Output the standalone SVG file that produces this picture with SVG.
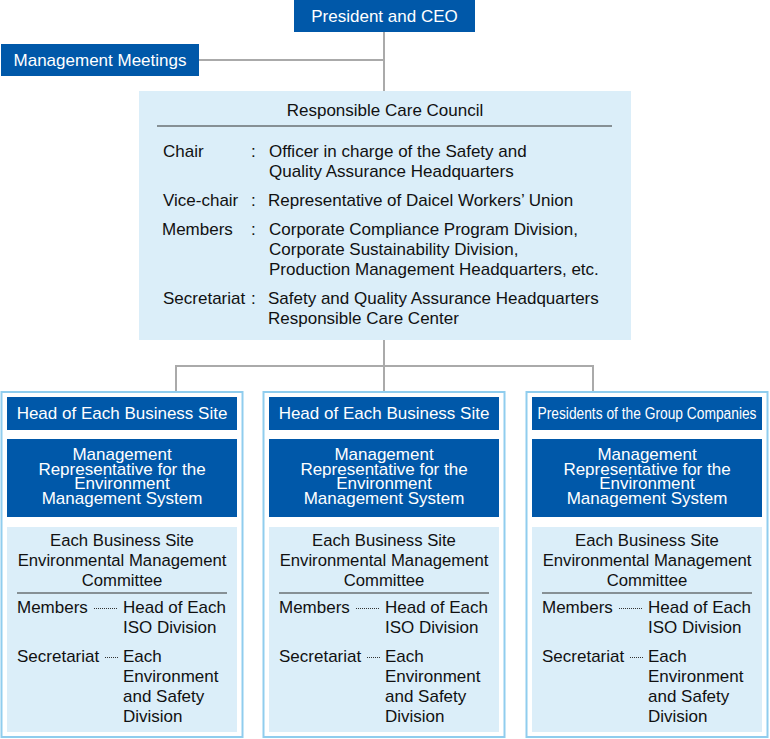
<svg xmlns="http://www.w3.org/2000/svg" width="770" height="739" viewBox="0 0 770 739">
<style>
text{font-family:"Liberation Sans",Arial,sans-serif;font-size:17px;fill:#111}
.w{fill:#fff}
.c{text-anchor:middle}
.dk{fill:#0058a9}
.lt{fill:#dbeef9}
.con{stroke:#aaaaaa;stroke-width:2;fill:none}
.outer{fill:#fff;stroke:#90cdee;stroke-width:2}
.rule{stroke:#333;stroke-width:1.2}
.dots{stroke:#333;stroke-width:1;stroke-dasharray:1 1}
.cm{font-size:16.7px}
</style>
<g id="connectors">
<line class="con" x1="384" y1="32" x2="384" y2="91"/>
<line class="con" x1="199" y1="60" x2="384" y2="60"/>
<line class="con" x1="384" y1="340" x2="384" y2="366"/>
<line class="con" x1="176" y1="366" x2="593" y2="366"/>
<line class="con" x1="176" y1="365" x2="176" y2="392"/>
<line class="con" x1="384" y1="365" x2="384" y2="392"/>
<line class="con" x1="593" y1="365" x2="593" y2="392"/>
</g>
<g id="president">
<rect class="dk" x="294" y="0" width="181" height="32"/>
<text class="w c" x="384.5" y="22">President and CEO</text>
</g>
<g id="management-meetings">
<rect class="dk" x="1" y="44" width="198" height="32"/>
<text class="w c" x="100" y="66">Management Meetings</text>
</g>
<g id="council">
<rect class="lt" x="139" y="91" width="492" height="249"/>
<text class="c" x="385" y="116">Responsible Care Council</text>
<line class="rule" x1="157" y1="126" x2="612" y2="126"/>
<text x="163" y="157">Chair</text>
<text x="251" y="157">:</text>
<text x="269" y="157">Officer in charge of the Safety and</text>
<text x="269" y="177">Quality Assurance Headquarters</text>
<text x="163" y="206">Vice-chair</text>
<text x="251" y="206">:</text>
<text x="268" y="206">Representative of Daicel Workers’ Union</text>
<text x="162" y="235">Members</text>
<text x="251" y="235">:</text>
<text x="269" y="235">Corporate Compliance Program Division,</text>
<text x="269" y="255">Corporate Sustainability Division,</text>
<text x="269" y="275">Production Management Headquarters, etc.</text>
<text x="163" y="304">Secretariat</text>
<text x="251" y="304">:</text>
<text x="268" y="304">Safety and Quality Assurance Headquarters</text>
<text x="268" y="324">Responsible Care Center</text>
</g>
<g id="site1" transform="translate(122,0)">
<rect class="outer" x="-120.5" y="392" width="241" height="345"/>
<rect class="dk" x="-115" y="397" width="230" height="33"/>
<text class="w c" x="0" y="419">Head of Each Business Site</text>
<rect class="dk" x="-115" y="439" width="230" height="78"/>
<text class="w c" x="0" y="460">Management</text>
<text class="w c" x="0" y="474.5">Representative for the</text>
<text class="w c" x="0" y="489">Environment</text>
<text class="w c" x="0" y="503.5">Management System</text>
<rect class="lt" x="-115" y="527" width="230" height="205"/>
<text class="c cm" x="0" y="546">Each Business Site</text>
<text class="c cm" x="0" y="566">Environmental Management</text>
<text class="c cm" x="0" y="586">Committee</text>
<line class="rule" x1="-105" y1="593" x2="105" y2="593"/>
<text x="-105" y="613">Members</text>
<line class="dots" x1="-28" y1="608.5" x2="-4" y2="608.5"/>
<text x="1" y="613">Head of Each</text>
<text x="1" y="633">ISO Division</text>
<text x="-105" y="662">Secretariat</text>
<line class="dots" x1="-17" y1="657.5" x2="-4" y2="657.5"/>
<text x="1" y="662">Each</text>
<text x="1" y="682">Environment</text>
<text x="1" y="702">and Safety</text>
<text x="1" y="722">Division</text>
</g>
<g id="site2" transform="translate(384,0)">
<rect class="outer" x="-120.5" y="392" width="241" height="345"/>
<rect class="dk" x="-115" y="397" width="230" height="33"/>
<text class="w c" x="0" y="419">Head of Each Business Site</text>
<rect class="dk" x="-115" y="439" width="230" height="78"/>
<text class="w c" x="0" y="460">Management</text>
<text class="w c" x="0" y="474.5">Representative for the</text>
<text class="w c" x="0" y="489">Environment</text>
<text class="w c" x="0" y="503.5">Management System</text>
<rect class="lt" x="-115" y="527" width="230" height="205"/>
<text class="c cm" x="0" y="546">Each Business Site</text>
<text class="c cm" x="0" y="566">Environmental Management</text>
<text class="c cm" x="0" y="586">Committee</text>
<line class="rule" x1="-105" y1="593" x2="105" y2="593"/>
<text x="-105" y="613">Members</text>
<line class="dots" x1="-28" y1="608.5" x2="-4" y2="608.5"/>
<text x="1" y="613">Head of Each</text>
<text x="1" y="633">ISO Division</text>
<text x="-105" y="662">Secretariat</text>
<line class="dots" x1="-17" y1="657.5" x2="-4" y2="657.5"/>
<text x="1" y="662">Each</text>
<text x="1" y="682">Environment</text>
<text x="1" y="702">and Safety</text>
<text x="1" y="722">Division</text>
</g>
<g id="group-companies" transform="translate(647,0)">
<rect class="outer" x="-120.5" y="392" width="241" height="345"/>
<rect class="dk" x="-115" y="397" width="230" height="33"/>
<text class="w c" x="0" y="419" style="font-size:16px" textLength="219" lengthAdjust="spacingAndGlyphs">Presidents of the Group Companies</text>
<rect class="dk" x="-115" y="439" width="230" height="78"/>
<text class="w c" x="0" y="460">Management</text>
<text class="w c" x="0" y="474.5">Representative for the</text>
<text class="w c" x="0" y="489">Environment</text>
<text class="w c" x="0" y="503.5">Management System</text>
<rect class="lt" x="-115" y="527" width="230" height="205"/>
<text class="c cm" x="0" y="546">Each Business Site</text>
<text class="c cm" x="0" y="566">Environmental Management</text>
<text class="c cm" x="0" y="586">Committee</text>
<line class="rule" x1="-105" y1="593" x2="105" y2="593"/>
<text x="-105" y="613">Members</text>
<line class="dots" x1="-28" y1="608.5" x2="-4" y2="608.5"/>
<text x="1" y="613">Head of Each</text>
<text x="1" y="633">ISO Division</text>
<text x="-105" y="662">Secretariat</text>
<line class="dots" x1="-17" y1="657.5" x2="-4" y2="657.5"/>
<text x="1" y="662">Each</text>
<text x="1" y="682">Environment</text>
<text x="1" y="702">and Safety</text>
<text x="1" y="722">Division</text>
</g>
</svg>
